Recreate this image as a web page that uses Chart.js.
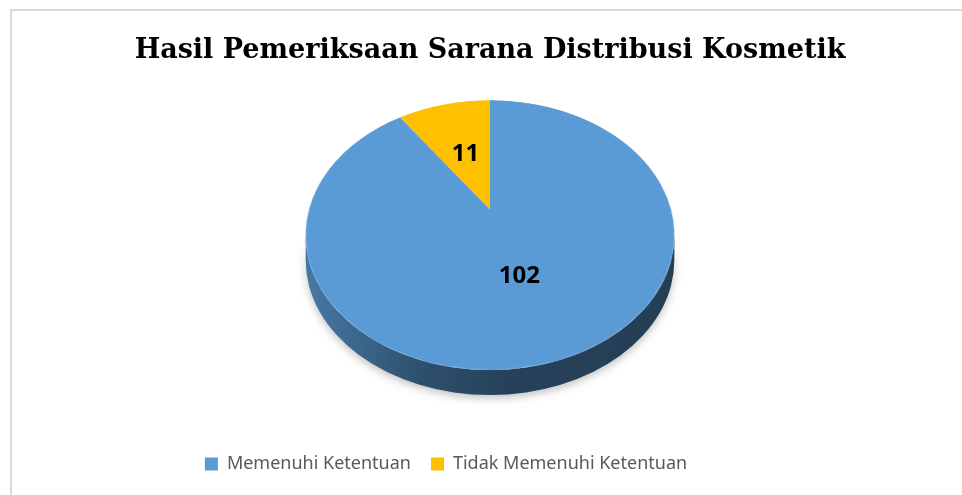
<!DOCTYPE html>
<html>
<head>
<meta charset="utf-8">
<title>Hasil Pemeriksaan Sarana Distribusi Kosmetik</title>
<script src="https://cdn.jsdelivr.net/npm/chart.js@4.4.1/dist/chart.umd.min.js"></script>
<style>
	html, body { margin: 0; padding: 0; background: #fff; overflow: hidden; }
	#frame { position: absolute; left: 10px; top: 9px; width: 1000px; height: 1000px; border: 2px solid #d9d9d9; box-sizing: border-box; }
	#chart { position: absolute; left: 0; top: 0; }
</style>
</head>
<body>
<div id="frame"></div>
<canvas id="chart" width="962" height="495"></canvas>
<script>
"use strict";

// chart data
var categories = ["Memenuhi Ketentuan", "Tidak Memenuhi Ketentuan"];
var counts = [102, 11];
var sliceColors = ["#5b9bd5", "#ffc000"];
var chartTitle = "Hasil Pemeriksaan Sarana Distribusi Kosmetik";

// fake 3d: the flat pie Chart.js draws is re-drawn with a perspective tilt
// a, b = half width / height of the disc, t = perspective strength
var tilt = {
	a: 181, b: 130, t: 0.19, depth: 25,
	shiftX: 44, shiftY: -47,
	labelAt: 0.49
};

function target(chart) {
	var area = chart.chartArea;
	return { x: (area.left + area.right) / 2 + tilt.shiftX, y: (area.top + area.bottom) / 2 + tilt.shiftY };
}

// disc coords (u, v in -1..1, v towards the viewer) -> screen
function project(c, u, v) {
	var w = 1 - tilt.t * v;
	return { x: c.x + tilt.a * u / w, y: c.y + tilt.b * v / w };
}

function shade(hex, f) {
	var n = parseInt(hex.slice(1), 16);
	var r = Math.round(((n >> 16) & 255) * f);
	var g = Math.round(((n >> 8) & 255) * f);
	var b = Math.round((n & 255) * f);
	return "rgb(" + r + "," + g + "," + b + ")";
}

var pie3d = {
	id: "pie3d",
	afterDatasetsDraw: function(chart) {
		var ctx = chart.ctx;
		var meta = chart.getDatasetMeta(0);
		var arc0 = meta.data[0];
		var R = arc0.outerRadius;
		var c = target(chart);
		var t = tilt.t;
		var TWO_PI = Math.PI * 2;

		// grab the flat pie and wipe it
		var sx0 = Math.floor(arc0.x - R - 2);
		var sy0 = Math.floor(arc0.y - R - 2);
		var size = Math.ceil(2 * R + 4);
		var off = document.createElement("canvas");
		off.width = size;
		off.height = size;
		off.getContext("2d").drawImage(chart.canvas, sx0, sy0, size, size, 0, 0, size, size);
		ctx.clearRect(sx0, sy0, size, size);

		// outline of the tilted disc is an ellipse
		var ell = {
			x: c.x,
			y: c.y + tilt.b * t / (1 - t * t),
			rx: tilt.a / Math.sqrt(1 - t * t),
			ry: tilt.b / (1 - t * t)
		};
		function param(phi) {
			var p = project(c, Math.cos(phi), Math.sin(phi));
			return Math.atan2((p.y - ell.y) / ell.ry, (p.x - ell.x) / ell.rx);
		}

		// front wall
		ctx.save();
		ctx.shadowColor = "rgba(0,0,0,0.25)";
		ctx.shadowBlur = 8;
		ctx.shadowOffsetY = 3;
		meta.data.forEach(function(arc, i) {
			var col = sliceColors[i];
			var grad = ctx.createLinearGradient(ell.x - ell.rx, 0, ell.x + ell.rx, 0);
			grad.addColorStop(0, shade(col, 0.78));
			grad.addColorStop(0.3, shade(col, 0.52));
			grad.addColorStop(0.55, shade(col, 0.42));
			grad.addColorStop(1, shade(col, 0.4));
			ctx.fillStyle = grad;
			var s = param(arc.startAngle);
			var e = param(arc.endAngle);
			if (arc.endAngle - arc.startAngle >= TWO_PI - 1e-6) {
				e = s + TWO_PI;
			} else {
				while (e <= s) e += TWO_PI;
			}
			for (var k = -1; k <= 2; k++) {
				var lo = Math.max(s, TWO_PI * k);
				var hi = Math.min(e, Math.PI + TWO_PI * k);
				if (hi <= lo) continue;
				lo -= TWO_PI * k;
				hi -= TWO_PI * k;
				ctx.beginPath();
				ctx.ellipse(ell.x, ell.y, ell.rx, ell.ry, 0, lo, hi, false);
				ctx.ellipse(ell.x, ell.y + tilt.depth, ell.rx, ell.ry, 0, hi, lo, true);
				ctx.closePath();
				ctx.fill();
			}
		});
		ctx.restore();

		// top face, row by row
		var cyOff = arc0.y - sy0;
		var cxOff = arc0.x - sx0;
		var yTop = Math.floor(c.y - tilt.b / (1 + t)) - 1;
		var yBot = Math.ceil(c.y + tilt.b / (1 - t)) + 1;
		for (var y = yTop; y <= yBot; y++) {
			var d0 = y - c.y, d1 = y + 1 - c.y;
			var v0 = d0 / (tilt.b + t * d0);
			var v1 = d1 / (tilt.b + t * d1);
			var scale = tilt.a / (1 - t * (v0 + v1) / 2) / R;
			var srcY = Math.max(0, cyOff + v0 * R);
			var srcB = Math.min(size, cyOff + v1 * R);
			if (srcB <= srcY) continue;
			ctx.drawImage(off, 0, srcY, size, srcB - srcY, c.x - cxOff * scale, y, size * scale, 1);
		}

		// value labels
		ctx.save();
		ctx.font = "bold 24px 'Noto Sans', sans-serif";
		ctx.fillStyle = "#000";
		ctx.textAlign = "center";
		ctx.textBaseline = "middle";
		meta.data.forEach(function(arc, i) {
			var mid = (arc.startAngle + arc.endAngle) / 2;
			var p = project(c, Math.cos(mid) * tilt.labelAt, Math.sin(mid) * tilt.labelAt);
			ctx.fillText(String(counts[i]), p.x, p.y);
		});
		ctx.restore();
	},
	afterDraw: function(chart) {
		// title sits over the pie, not over the legend, so it is drawn here
		var ctx = chart.ctx;
		var c = target(chart);
		ctx.save();
		ctx.font = "bold 27px 'DejaVu Serif', serif";
		ctx.fillStyle = "#000";
		ctx.textAlign = "center";
		ctx.textBaseline = "alphabetic";
		ctx.fillText(chartTitle, c.x, 58);
		ctx.restore();
	}
};

var ctx = document.getElementById("chart");
var chart = new Chart(ctx, {
	type: "pie",
	data: {
		labels: categories,
		datasets: [{
			data: counts,
			backgroundColor: sliceColors,
			borderWidth: 0
		}]
	},
	options: {
		responsive: false,
		animation: false,
		events: [],
		layout: { padding: { top: 78, bottom: 12, left: 0, right: 70 } },
		plugins: {
			title: { display: false },
			legend: {
				display: true,
				position: "bottom",
				labels: {
					color: "#595959",
					font: { family: "'Noto Sans', sans-serif", size: 18 },
					boxWidth: 13,
					boxHeight: 13,
					padding: 20
				}
			},
			tooltip: { enabled: false }
		}
	},
	plugins: [pie3d]
});
</script>
</body>
</html>
